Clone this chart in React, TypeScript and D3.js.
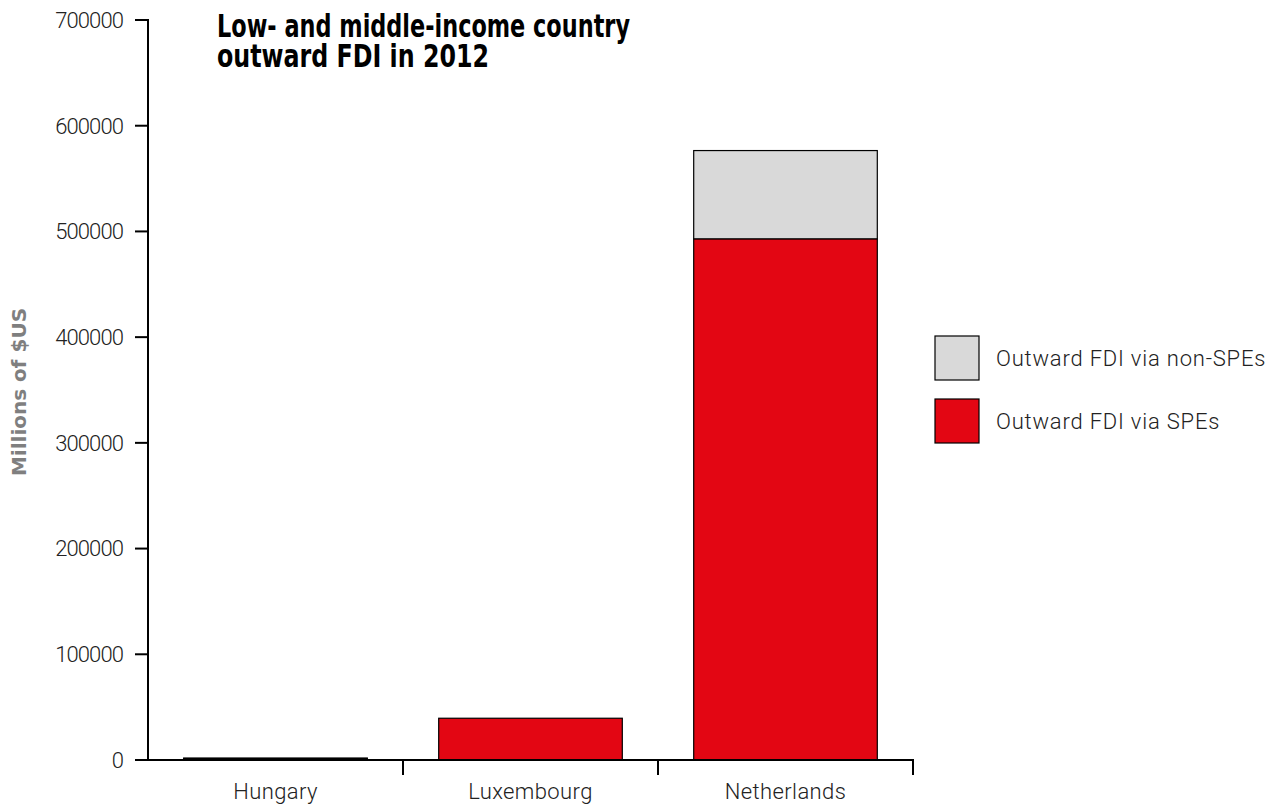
import React from "react";
import * as d3 from "d3";

const categories = ["Hungary", "Luxembourg", "Netherlands"];
const speValues = [1500, 39500, 493000];
const nonSpeValues = [300, 0, 83500];
const yTicks = [0, 100000, 200000, 300000, 400000, 500000, 600000, 700000];
const seriesNames = ["Outward FDI via non-SPEs", "Outward FDI via SPEs"];
const seriesColors = ["#d9d9d9", "#e30613"];
const titleLines = ["Low- and middle-income country", "outward FDI in 2012"];
const yLabel = "Millions of $US";

const W = 1286;
const H = 805;
const left = 148;
const right = 913;
const top = 20;
const bottom = 760;
const textFont = "Roboto, 'DejaVu Sans', sans-serif";

export default function App() {
  const x = d3.scaleBand<string>().domain(categories).range([left, right]).padding(0);
  const y = d3.scaleLinear().domain([0, 700000]).range([bottom, top]);
  const bw = x.bandwidth() * 0.72;

  const rows = categories.map((c, i) => ({ c, spe: speValues[i], non: nonSpeValues[i] }));

  return (
    <svg width={W} height={H} style={{ position: "absolute", left: 0, top: 0, background: "#fff" }}>
      {/* title */}
      <text
        fontFamily="'DejaVu Sans Condensed', 'Liberation Sans Narrow', sans-serif"
        fontWeight={700}
        fontSize={32}
        fill="#000"
      >
        <tspan x={217} y={37} textLength={413} lengthAdjust="spacingAndGlyphs">{titleLines[0]}</tspan>
        <tspan x={217} y={67} textLength={272} lengthAdjust="spacingAndGlyphs">{titleLines[1]}</tspan>
      </text>

      {/* y label */}
      <text
        transform={`translate(26,392) rotate(-90)`}
        textAnchor="middle"
        fontFamily="'DejaVu Sans', sans-serif"
        fontWeight={700}
        fontSize={20}
        fill="#7f7f7f"
      >
        {yLabel}
      </text>

      {/* bars */}
      {rows.map((r) => {
        const bx = (x(r.c) as number) + (x.bandwidth() - bw) / 2;
        return (
          <g key={r.c}>
            <rect x={bx} y={y(r.spe)} width={bw} height={y(0) - y(r.spe)} fill={seriesColors[1]} stroke="#000" strokeWidth={1.2} />
            {r.non > 0 && (
              <rect x={bx} y={y(r.spe + r.non)} width={bw} height={y(r.spe) - y(r.spe + r.non)} fill={seriesColors[0]} stroke="#000" strokeWidth={1.2} />
            )}
          </g>
        );
      })}

      {/* y axis */}
      <line x1={left} x2={left} y1={top - 1} y2={bottom + 1} stroke="#000" strokeWidth={2} />
      {yTicks.map((t) => (
        <g key={t}>
          <line x1={left - 13} x2={left} y1={y(t)} y2={y(t)} stroke="#000" strokeWidth={2} />
          <text x={left - 25} y={y(t)} dy="0.36em" textAnchor="end" fontFamily={textFont} fontWeight={300} fontSize={22} fill="#222" letterSpacing={-0.9}>
            {t}
          </text>
        </g>
      ))}

      {/* x axis */}
      <line x1={left} x2={right + 1} y1={bottom} y2={bottom} stroke="#000" strokeWidth={2} />
      {categories.map((c) => (
        <g key={c}>
          <line x1={(x(c) as number) + x.bandwidth()} x2={(x(c) as number) + x.bandwidth()} y1={bottom} y2={bottom + 15} stroke="#000" strokeWidth={2} />
          <text x={(x(c) as number) + x.bandwidth() / 2} y={799} textAnchor="middle" fontFamily={textFont} fontWeight={300} fontSize={22} fill="#222" letterSpacing={0.4}>
            {c}
          </text>
        </g>
      ))}

      {/* legend */}
      {seriesNames.map((s, i) => (
        <g key={s} transform={`translate(935,${336 + i * 63})`}>
          <rect x={0} y={0} width={44} height={44} fill={seriesColors[i]} stroke="#000" strokeWidth={1.2} />
          <text x={61} y={30} fontFamily={textFont} fontWeight={300} fontSize={22} fill="#222" letterSpacing={0.8}>
            {s}
          </text>
        </g>
      ))}
    </svg>
  );
}
